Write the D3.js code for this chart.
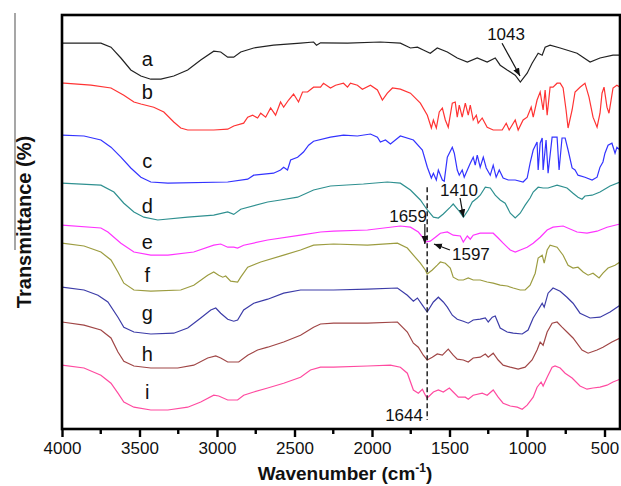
<!DOCTYPE html>
<html>
<head>
<meta charset="utf-8">
<script src="https://cdn.jsdelivr.net/npm/d3@7"></script>
<style>
  body { margin: 0; background: #fff; }
  svg { font-family: 'Liberation Sans', Arial, sans-serif; }
</style>
</head>
<body>
<svg id="chart" width="621" height="486"></svg>
<script>
// FTIR spectra: [wavenumber (cm-1), transmittance (offset, a.u.)]
const specA = [[4000,96.2],[3749,96.2],[3684,95.2],[3620,92.5],[3556,89.5],[3491,88],[3427,87.2],[3362,87.2],[3279,88],[3189,89.5],[3105,92],[3021,94.2],[2976,94],[2931,92.7],[2892,92.7],[2847,94],[2763,95],[2635,95.7],[2461,96.2],[2377,96.5],[2358,95.7],[2332,96.3],[2158,96.2],[1946,96.5],[1817,96.2],[1752,95],[1707,95.2],[1669,94.5],[1624,93.7],[1579,95],[1514,94],[1450,92.5],[1385,91.5],[1321,92.5],[1257,91.5],[1205,92.5],[1173,90.7],[1128,89.5],[1076,88.2],[1043,86.5],[999,88.7],[967,91.2],[928,93.7],[902,93.2],[883,95.2],[851,95.7],[786,95],[677,93.7],[593,91.5],[529,92.5],[445,93.2],[400,93.2]];

const specB = [[4000,86.2],[3987,86.2],[3813,85.7],[3684,85],[3601,83.2],[3536,81.5],[3491,81],[3408,80.2],[3343,79],[3279,76.5],[3234,75],[3189,74.5],[3021,74.5],[2931,74.7],[2892,75.5],[2828,76.2],[2802,77.7],[2770,78.2],[2738,77.5],[2718,78.7],[2686,77.7],[2654,80],[2622,78.2],[2590,81.5],[2570,80.2],[2538,82],[2506,83.5],[2474,81.5],[2448,84],[2416,84],[2377,85.2],[2332,85.2],[2313,86.2],[2268,85],[2235,85.7],[2184,86.2],[2158,85.2],[2139,86.2],[2094,85.7],[2062,84.7],[2010,85.7],[1965,84.5],[1933,82],[1901,83.7],[1868,85],[1817,84.7],[1752,83.7],[1688,81.2],[1643,78.2],[1617,75],[1604,77],[1585,75],[1566,79],[1546,80],[1527,77],[1508,75.2],[1482,81.2],[1463,81.5],[1450,77.7],[1437,80.7],[1418,77.7],[1398,81.2],[1379,78.2],[1366,80.7],[1347,77],[1327,78.2],[1315,76.2],[1289,77.5],[1257,75.2],[1218,74.5],[1160,74.5],[1134,76.2],[1115,74.5],[1076,77],[1057,74.5],[1025,77],[999,77.7],[973,80.2],[960,77.7],[935,82],[915,84],[896,79.5],[883,84.5],[870,78.2],[851,85.2],[832,85.2],[806,86.2],[786,86.2],[767,85],[748,79.5],[735,75],[709,79.5],[690,84],[658,85.2],[626,86.2],[600,82.7],[574,77.7],[548,75.2],[529,78.7],[516,83.7],[503,85.2],[484,80.2],[471,78.7],[445,85],[420,85.7],[400,85.2]];

const specC = [[4000,73.2],[3858,73],[3749,72],[3684,70.2],[3620,67.7],[3556,65],[3491,62.7],[3427,61.5],[3317,61.2],[2931,61.5],[2802,62.2],[2763,63.2],[2635,63.7],[2590,64.5],[2570,65.2],[2545,64.5],[2525,67],[2480,67.7],[2442,69],[2409,70.7],[2377,71.7],[2268,72.7],[2184,73.2],[2094,73],[2010,73.5],[1965,72.7],[1946,71.5],[1913,72],[1881,71],[1817,73],[1733,72],[1675,69.5],[1643,65.2],[1617,62.5],[1604,63.7],[1585,62],[1572,64.5],[1546,62],[1534,61.7],[1514,67.7],[1482,70.2],[1469,68.7],[1450,64.5],[1437,63.2],[1418,64.5],[1405,62.7],[1385,64.5],[1366,66.2],[1347,67.7],[1334,65.7],[1321,68.2],[1302,65.2],[1282,67.7],[1263,65],[1237,63.2],[1218,65.7],[1199,62.7],[1179,64.5],[1154,62.5],[1121,62],[1076,62],[1025,61.5],[999,62.5],[980,66.2],[960,69.5],[935,71.5],[928,64.5],[915,71.2],[902,72.5],[896,64.5],[877,72],[864,63.7],[838,72.7],[806,72.7],[793,64.5],[774,72.5],[754,72.5],[735,69.5],[709,65],[690,64.5],[671,63.2],[626,62.7],[580,62],[548,62.7],[529,65.2],[510,66.5],[497,68.7],[477,70.7],[452,71.2],[432,68.7],[420,70.2],[400,69.5]];

const specD = [[4000,61.2],[3749,60.7],[3665,59],[3601,56.2],[3536,54],[3472,52.7],[3382,52],[3189,52.7],[3021,53.2],[2931,54],[2892,53.4],[2847,54.7],[2673,56.5],[2590,57],[2480,57.7],[2377,59.5],[2268,60.5],[2055,61],[1901,61.5],[1817,61.2],[1752,59.5],[1688,57],[1643,54.5],[1604,52.7],[1572,52.5],[1540,53.5],[1495,55.2],[1476,56],[1443,54.5],[1410,52.7],[1379,54.5],[1353,56.5],[1321,57.5],[1302,58.2],[1269,60.2],[1237,60],[1205,58.2],[1173,57],[1141,56.2],[1108,53.7],[1076,52.5],[1044,53.7],[1012,55.7],[980,57.5],[960,59],[928,60.2],[896,60],[864,60],[806,60.7],[742,60],[703,58.7],[671,57.7],[645,57.2],[626,58],[580,58.2],[529,59],[464,60.5],[400,61.5]];

const specE = [[4000,50.7],[3749,50],[3704,49],[3620,46.2],[3536,44],[3427,43.2],[3317,43.2],[3150,44],[3021,45.7],[2976,46],[2931,45.2],[2892,45.2],[2867,45],[2828,45.7],[2673,47],[2461,48.2],[2332,49],[2248,49.2],[2029,49.5],[1817,50.5],[1752,50.2],[1701,49],[1669,47.5],[1659,46.5],[1624,46.7],[1591,47.7],[1559,48.7],[1514,49],[1476,48.2],[1430,48],[1411,46.5],[1385,48],[1366,47.2],[1347,48.2],[1302,48.7],[1257,48.7],[1218,48.7],[1186,47.5],[1154,46.2],[1108,44.5],[1076,44],[1031,44.7],[999,45.2],[960,46.2],[915,47.7],[870,49.5],[832,50.2],[767,50.5],[677,49],[613,48.7],[548,49.2],[484,50.2],[400,51]];

const specF = [[4000,46.2],[3858,45.5],[3749,44],[3684,42],[3639,39],[3601,36.2],[3536,34.5],[3427,34.2],[3234,34.5],[3150,35.7],[3060,38.2],[3021,39],[2989,38.2],[2963,37.7],[2944,38],[2912,36.7],[2867,36.5],[2847,37.7],[2802,40.2],[2718,41.5],[2570,43.2],[2461,44.5],[2377,45.7],[2248,46],[2029,45.7],[1836,46.2],[1772,45],[1733,43.2],[1688,41.2],[1656,39.5],[1644,38.5],[1611,39.5],[1579,40.7],[1559,41.5],[1527,41.2],[1495,40],[1476,37.7],[1443,37],[1411,37],[1379,37.5],[1347,37],[1302,37],[1257,36.5],[1218,36.2],[1173,35.7],[1128,35.5],[1089,35],[1044,34.5],[1012,34.5],[980,35.7],[947,38.7],[928,42.5],[902,43.2],[889,41.2],[870,44.5],[851,45.7],[806,45.2],[767,43.2],[735,40.7],[703,40],[671,40.2],[638,39],[606,38.2],[574,38.7],[535,37.5],[510,38.7],[477,40],[432,40.7],[400,41.5]];

const specG = [[4000,35.2],[3858,34.5],[3768,33.2],[3704,31.5],[3639,27.7],[3601,25.2],[3536,24],[3427,23.5],[3279,23.7],[3189,25],[3105,27.5],[3040,29.5],[3008,30],[2976,28.7],[2931,27.2],[2892,26.7],[2867,27],[2828,29.5],[2763,31.2],[2673,32.2],[2570,33.7],[2461,34.5],[2248,34.5],[2029,34.7],[1836,35],[1772,33.2],[1733,31.7],[1707,32.5],[1675,30.7],[1644,29],[1604,31.5],[1572,32.7],[1540,31.5],[1514,30.2],[1482,28.2],[1450,27.2],[1411,26.7],[1379,26.2],[1347,27],[1302,27.2],[1269,27.5],[1250,26.5],[1224,27.7],[1205,28],[1173,25],[1128,24],[1089,23.7],[1031,23.5],[993,24.5],[960,27.5],[928,29.5],[902,31.2],[889,30.2],[864,33.7],[832,35],[786,34.2],[742,32.7],[703,31.2],[658,28.7],[593,27.5],[529,27.7],[464,29],[400,30.7]];

const specH = [[4000,26.5],[3858,25.7],[3749,24.5],[3684,22.5],[3639,19],[3601,16.7],[3536,15.5],[3427,15],[3253,15],[3150,15.7],[3060,17.5],[3008,18],[2976,17.5],[2931,16.5],[2892,16.5],[2860,16.5],[2802,18.2],[2738,19.5],[2673,20.2],[2570,21.5],[2461,23.2],[2377,25.2],[2332,26],[2248,26.2],[2029,26.2],[1836,26.5],[1772,24],[1733,21.2],[1701,20.2],[1669,18.2],[1644,17],[1611,17.7],[1579,18.5],[1546,18.2],[1508,19.7],[1476,18.2],[1450,17.2],[1411,17],[1379,16.5],[1347,17.5],[1302,17.7],[1269,18.5],[1250,17.7],[1218,18.7],[1186,17],[1154,15.7],[1108,15.2],[1057,14.7],[1012,15.2],[967,17],[935,19.5],[915,21.5],[896,20.7],[870,24],[838,26.2],[806,26.5],[774,25.2],[742,24],[703,22.5],[645,19.5],[606,18.7],[548,19.5],[510,20.2],[452,21.5],[400,22.5]];

const specI = [[4000,15.7],[3858,15],[3749,13.2],[3684,11.2],[3639,8.7],[3601,6.5],[3536,5.2],[3427,4.5],[3317,4.5],[3189,5.2],[3105,6.5],[3021,8.2],[2989,8],[2931,7],[2867,7],[2828,8.2],[2763,9],[2673,10],[2570,11.2],[2461,12.7],[2397,14.5],[2332,15.2],[2248,15.2],[2029,15.5],[1881,15.7],[1817,15.2],[1772,13.7],[1733,9.5],[1701,8.7],[1675,9.7],[1656,8.2],[1644,7.5],[1604,9],[1572,9.5],[1540,9],[1501,10],[1476,9],[1443,7.7],[1398,7.7],[1379,7.2],[1347,8.2],[1289,8.7],[1257,8.2],[1218,9.5],[1186,7.7],[1154,6.2],[1108,5.5],[1063,5.2],[1031,4.7],[999,5.7],[960,7.7],[935,10.2],[909,11.5],[896,10.5],[870,12.7],[838,15.2],[819,15.5],[786,15],[754,13.7],[709,12.5],[658,10.5],[613,9.7],[574,10],[529,10.2],[484,10.7],[445,11.5],[400,12.2]];

const spectra = [specA, specB, specC, specD, specE, specF, specG, specH, specI];
const seriesNames = ['a', 'b', 'c', 'd', 'e', 'f', 'g', 'h', 'i'];
const seriesColors = ['#222222', '#ff3333', '#3333ff', '#2f9090', '#ff33ff', '#9c9c40', '#3c3ca8', '#a04646', '#ff4aa0'];
const labelLevels = [90.5, 82.2, 65, 53.7, 44.7, 36.5, 27, 16.7, 7.2];

const xTicks = [4000, 3500, 3000, 2500, 2000, 1500, 1000, 500];
const xMinorTicks = [3750, 3250, 2750, 2250, 1750, 1250, 750];

// peak annotations: text anchor point and arrow from -> to, all in data units
const peakNotes = [
    { text: '1043', anchor: 'middle', tx: 1135, ty: 97, from: [1161, 96.2], to: [1045, 88] },
    { text: '1410', anchor: 'middle', tx: 1439, ty: 58, from: [1432, 57.5], to: [1410, 52.7] },
    { text: '1659', anchor: 'end', tx: 1645, ty: 51.5, from: [1659, 51], to: [1659, 46] },
    { text: '1597', anchor: 'start', tx: 1484, ty: 42, from: [1497, 44.5], to: [1600, 46] },
    { text: '1644', anchor: 'end', tx: 1671, ty: 1.8, from: null, to: null }
];
const dashedMark = { wn: 1644, top: 60.2, bottom: 2 };

const svg = d3.select('#chart');

const x = d3.scaleLinear().domain([4000, 400]).range([62, 620]);
const y = d3.scaleLinear().domain([0, 103.25]).range([428, 15]);

svg.append('defs').append('clipPath').attr('id', 'plot-clip')
    .append('rect')
    .attr('x', 62).attr('y', 15)
    .attr('width', 558).attr('height', 414);

svg.select('defs').append('marker')
    .attr('id', 'arrow')
    .attr('viewBox', '0 0 10 10')
    .attr('refX', 10).attr('refY', 5)
    .attr('markerWidth', 8).attr('markerHeight', 8)
    .attr('markerUnits', 'userSpaceOnUse')
    .attr('orient', 'auto')
    .append('path')
    .attr('d', 'M0,1 L10,5 L0,9 Z')
    .attr('fill', '#111');

// stray line left of the y title in the original scan
svg.append('line')
    .attr('x1', 15).attr('x2', 15)
    .attr('y1', 13).attr('y2', 250)
    .attr('stroke', '#777')
    .attr('stroke-width', 1.3);

const line = d3.line()
    .x(d => x(d[0]))
    .y(d => y(d[1]))
    .curve(d3.curveLinear);

svg.append('g')
    .attr('clip-path', 'url(#plot-clip)')
    .selectAll('path')
    .data(spectra)
    .enter()
    .append('path')
    .attr('d', line)
    .attr('fill', 'none')
    .attr('stroke', (d, i) => seriesColors[i])
    .attr('stroke-width', 1.2);

// curve letters
svg.append('g')
    .selectAll('text')
    .data(seriesNames)
    .enter()
    .append('text')
    .attr('x', x(3450))
    .attr('y', (d, i) => y(labelLevels[i]))
    .attr('text-anchor', 'middle')
    .attr('font-size', 20)
    .attr('fill', '#111')
    .text(d => d);

// dashed marker at 1644
svg.append('line')
    .attr('x1', x(dashedMark.wn)).attr('x2', x(dashedMark.wn))
    .attr('y1', y(dashedMark.top)).attr('y2', y(dashedMark.bottom))
    .attr('stroke', '#222')
    .attr('stroke-width', 1.5)
    .attr('stroke-dasharray', '5,3');

const notes = svg.append('g');
peakNotes.forEach(n => {
    notes.append('text')
        .attr('x', x(n.tx)).attr('y', y(n.ty))
        .attr('text-anchor', n.anchor)
        .attr('font-size', 17)
        .attr('fill', '#111')
        .text(n.text);
    if (n.from) {
        notes.append('line')
            .attr('x1', x(n.from[0])).attr('y1', y(n.from[1]))
            .attr('x2', x(n.to[0])).attr('y2', y(n.to[1]))
            .attr('stroke', '#111')
            .attr('stroke-width', 1.2)
            .attr('marker-end', 'url(#arrow)');
    }
});

// frame
svg.append('rect')
    .attr('x', 62).attr('y', 15)
    .attr('width', 558).attr('height', 414)
    .attr('fill', 'none')
    .attr('stroke', '#000')
    .attr('stroke-width', 2.6);

const xAxis = svg.append('g')
    .attr('transform', 'translate(0,429)')
    .call(d3.axisBottom(x).tickValues(xTicks).tickFormat(d3.format('d'))
        .tickSize(8).tickSizeOuter(0).tickPadding(5));
xAxis.select('.domain').remove();
xAxis.selectAll('.tick line').attr('stroke-width', 2.4);
xAxis.selectAll('.tick text')
    .attr('font-size', 17)
    .attr('font-family', "'Liberation Sans', Arial, sans-serif")
    .attr('fill', '#111');

svg.append('g')
    .selectAll('line')
    .data(xMinorTicks)
    .enter()
    .append('line')
    .attr('x1', d => x(d)).attr('x2', d => x(d))
    .attr('y1', 429).attr('y2', 434)
    .attr('stroke', '#000')
    .attr('stroke-width', 2.4);

// axis titles
const xTitle = svg.append('text')
    .attr('x', 345).attr('y', 480)
    .attr('text-anchor', 'middle')
    .attr('font-size', 19)
    .attr('font-weight', 'bold')
    .attr('fill', '#111');
xTitle.append('tspan').text('Wavenumber (cm');
xTitle.append('tspan').attr('font-size', 12).attr('dy', -8).text('-1');
xTitle.append('tspan').attr('dy', 8).text(')');

svg.append('text')
    .attr('transform', 'translate(31,222) rotate(-90)')
    .attr('text-anchor', 'middle')
    .attr('font-size', 20)
    .attr('font-weight', 'bold')
    .attr('fill', '#111')
    .text('Transmittance (%)');
</script>
</body>
</html>
